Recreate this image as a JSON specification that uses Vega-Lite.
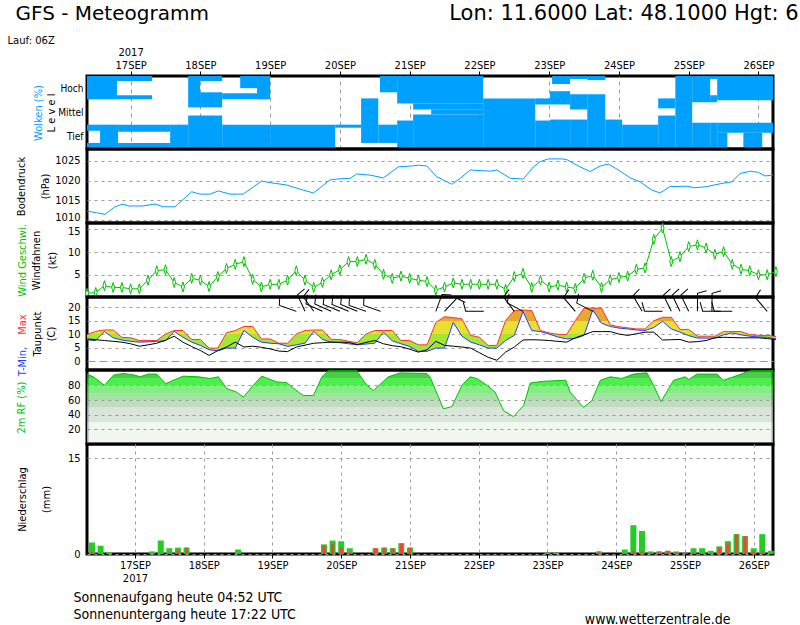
{
  "$schema": "https://vega.github.io/schema/vega-lite/v6.json",
  "background": "white",
  "padding": {"left": 5, "top": 0, "right": 0, "bottom": 0},
  "spacing": 0,
  "bounds": "flush",
  "config": {
    "font": "DejaVu Sans Condensed",
    "view": {"stroke": "black", "strokeWidth": 3},
    "axis": {
      "labelFont": "DejaVu Sans Condensed", "labelFontSize": 11, "labelColor": "black",
      "titleFont": "DejaVu Sans Condensed", "titleFontSize": 11, "titleFontWeight": "normal", "titleColor": "black",
      "domain": false, "ticks": false, "labelPadding": 6,
      "gridColor": "#9a9a9a", "gridDash": [3, 4], "gridWidth": 1,
      "labelFlush": false, "labelOverlap": false
    }
  },
  "datasets": {
    "clouds": [
      {"h0": 9, "h1": 19.3, "l0": 2.04, "l1": 3},
      {"h0": 19.3, "h1": 31.4, "l0": 2.79, "l1": 3},
      {"h0": 19.3, "h1": 31.4, "l0": 2.04, "l1": 2.21},
      {"h0": 43.8, "h1": 47.9, "l0": 1.71, "l1": 3},
      {"h0": 47.9, "h1": 55.5, "l0": 2.79, "l1": 3},
      {"h0": 47.9, "h1": 55.5, "l0": 1.71, "l1": 2.33},
      {"h0": 43.8, "h1": 55.5, "l0": 0, "l1": 1.375},
      {"h0": 61.7, "h1": 67.5, "l0": 2.5, "l1": 3},
      {"h0": 55.5, "h1": 67.5, "l0": 2.04, "l1": 2.29},
      {"h0": 67.5, "h1": 72, "l0": 2.04, "l1": 3},
      {"h0": 9, "h1": 13.5, "l0": 0.75, "l1": 1},
      {"h0": 9, "h1": 13.5, "l0": 0, "l1": 0.25},
      {"h0": 13.5, "h1": 19.7, "l0": 0, "l1": 1},
      {"h0": 19.7, "h1": 37.6, "l0": 0.71, "l1": 1},
      {"h0": 19.7, "h1": 37.6, "l0": 0, "l1": 0.25},
      {"h0": 37.6, "h1": 43.8, "l0": 0, "l1": 1},
      {"h0": 55.5, "h1": 72, "l0": 0, "l1": 1},
      {"h0": 72, "h1": 94.4, "l0": 0, "l1": 1},
      {"h0": 94.4, "h1": 103.3, "l0": 0.875, "l1": 1},
      {"h0": 103.3, "h1": 109.2, "l0": 0.25, "l1": 2.08},
      {"h0": 109.2, "h1": 115.7, "l0": 0.25, "l1": 1},
      {"h0": 109.8, "h1": 115.7, "l0": 2.33, "l1": 3},
      {"h0": 115.7, "h1": 145.3, "l0": 1.875, "l1": 3},
      {"h0": 121.2, "h1": 145.3, "l0": 1.625, "l1": 1.875},
      {"h0": 127.4, "h1": 145.3, "l0": 1.42, "l1": 1.625},
      {"h0": 121.2, "h1": 145.3, "l0": 0, "l1": 1.42},
      {"h0": 115.7, "h1": 121.2, "l0": 0, "l1": 1.17},
      {"h0": 145.3, "h1": 163.2, "l0": 0, "l1": 2.08},
      {"h0": 163.2, "h1": 168.3, "l0": 1.83, "l1": 2.08},
      {"h0": 163.2, "h1": 168.3, "l0": 0, "l1": 1.17},
      {"h0": 169, "h1": 175.2, "l0": 2.67, "l1": 3},
      {"h0": 168.3, "h1": 175.2, "l0": 1.83, "l1": 2.375},
      {"h0": 168.3, "h1": 175.2, "l0": 0, "l1": 1.21},
      {"h0": 175.2, "h1": 181.1, "l0": 2.875, "l1": 3},
      {"h0": 175.2, "h1": 181.1, "l0": 1.625, "l1": 2.25},
      {"h0": 175.2, "h1": 181.1, "l0": 0, "l1": 1.21},
      {"h0": 181.1, "h1": 187.3, "l0": 2.83, "l1": 3},
      {"h0": 181.1, "h1": 187.3, "l0": 0, "l1": 2.25},
      {"h0": 187.3, "h1": 193.1, "l0": 0, "l1": 1.21},
      {"h0": 193.1, "h1": 205.5, "l0": 0, "l1": 1},
      {"h0": 205.5, "h1": 211.4, "l0": 1.67, "l1": 2.08},
      {"h0": 205.5, "h1": 211.4, "l0": 0, "l1": 1.375},
      {"h0": 211.4, "h1": 217.2, "l0": 0, "l1": 3},
      {"h0": 217.2, "h1": 223.4, "l0": 1.92, "l1": 3},
      {"h0": 217.2, "h1": 223.4, "l0": 0, "l1": 1.08},
      {"h0": 223.4, "h1": 225.8, "l0": 2.875, "l1": 3},
      {"h0": 223.4, "h1": 225.8, "l0": 1.92, "l1": 2.21},
      {"h0": 223.4, "h1": 225.8, "l0": 0, "l1": 1.08},
      {"h0": 225.8, "h1": 245, "l0": 2.0, "l1": 3},
      {"h0": 225.8, "h1": 245, "l0": 0.67, "l1": 1.08},
      {"h0": 225.8, "h1": 229.3, "l0": 0, "l1": 0.67},
      {"h0": 234.8, "h1": 241.3, "l0": 0, "l1": 0.67}
    ],
    "pres": [
      {"h": 9, "p": 1012.3}, {"h": 12.3, "p": 1011.9}, {"h": 15.2, "p": 1011.5}, {"h": 18.6, "p": 1013.4},
      {"h": 21.5, "p": 1014.1}, {"h": 23.1, "p": 1013.6}, {"h": 28.3, "p": 1013.6}, {"h": 32.4, "p": 1014.1},
      {"h": 35.2, "p": 1013.4}, {"h": 39.3, "p": 1013.4}, {"h": 45, "p": 1017.2}, {"h": 47.9, "p": 1016.6},
      {"h": 51.3, "p": 1016.6}, {"h": 54.2, "p": 1017.4}, {"h": 58.2, "p": 1016.6}, {"h": 62.7, "p": 1016.6},
      {"h": 69.1, "p": 1019.9}, {"h": 72, "p": 1019.5}, {"h": 77.7, "p": 1018.9}, {"h": 83.4, "p": 1017.6},
      {"h": 86.9, "p": 1016.9}, {"h": 89.2, "p": 1018.2}, {"h": 92.6, "p": 1020.2}, {"h": 94.9, "p": 1020.4},
      {"h": 99.5, "p": 1020.6}, {"h": 101.8, "p": 1021.7}, {"h": 106.4, "p": 1021.4}, {"h": 111, "p": 1020.7},
      {"h": 116.1, "p": 1023.5}, {"h": 120.7, "p": 1023.7}, {"h": 123, "p": 1023.9}, {"h": 125.9, "p": 1023.7},
      {"h": 129.3, "p": 1021.0}, {"h": 134.5, "p": 1019.1}, {"h": 137.4, "p": 1020.6}, {"h": 140.8, "p": 1022.7},
      {"h": 147.7, "p": 1022.4}, {"h": 150, "p": 1022.7}, {"h": 154.6, "p": 1020.6}, {"h": 159.1, "p": 1020.4},
      {"h": 162.6, "p": 1023.5}, {"h": 164.9, "p": 1024.8}, {"h": 167.7, "p": 1025.5}, {"h": 172.4, "p": 1025.5},
      {"h": 174.1, "p": 1025.3}, {"h": 178.6, "p": 1023.5}, {"h": 182.1, "p": 1022.3}, {"h": 185.5, "p": 1023.7},
      {"h": 188.4, "p": 1024.2}, {"h": 191.8, "p": 1022.7}, {"h": 195.9, "p": 1020.7}, {"h": 199.3, "p": 1019.7},
      {"h": 203.3, "p": 1017.6}, {"h": 206.2, "p": 1016.9}, {"h": 209.6, "p": 1018.5}, {"h": 215.4, "p": 1018.6},
      {"h": 218.2, "p": 1018.2}, {"h": 222.2, "p": 1018.5}, {"h": 227.4, "p": 1019.3}, {"h": 230.8, "p": 1019.7},
      {"h": 233.7, "p": 1021.8}, {"h": 237.2, "p": 1022.4}, {"h": 240, "p": 1022.1}, {"h": 242.3, "p": 1021.2},
      {"h": 245, "p": 1021.4}
    ],
    "wind": [
      {"h": 9, "w": 0.9}, {"h": 12, "w": 1.1}, {"h": 15, "w": 2.6}, {"h": 18, "w": 2.2}, {"h": 21, "w": 2.2},
      {"h": 24, "w": 1.9}, {"h": 27, "w": 1.9}, {"h": 30, "w": 3.8}, {"h": 33, "w": 5.9}, {"h": 36, "w": 6.1},
      {"h": 39, "w": 3.3}, {"h": 42, "w": 2.3}, {"h": 45, "w": 4.2}, {"h": 48, "w": 3.8}, {"h": 51, "w": 2.4},
      {"h": 54, "w": 4.6}, {"h": 57, "w": 6.4}, {"h": 60, "w": 7.3}, {"h": 63, "w": 7.9}, {"h": 66, "w": 4.0},
      {"h": 69, "w": 2.3}, {"h": 72, "w": 2.9}, {"h": 75, "w": 2.9}, {"h": 78, "w": 3.8}, {"h": 81, "w": 5.9},
      {"h": 84, "w": 3.8}, {"h": 87, "w": 2.2}, {"h": 90, "w": 3.3}, {"h": 93, "w": 5.0}, {"h": 96, "w": 6.1},
      {"h": 99, "w": 7.9}, {"h": 102, "w": 7.9}, {"h": 105, "w": 8.4}, {"h": 108, "w": 7.3}, {"h": 111, "w": 5.1},
      {"h": 114, "w": 4.2}, {"h": 117, "w": 4.7}, {"h": 120, "w": 4.2}, {"h": 123, "w": 3.8}, {"h": 126, "w": 3.5},
      {"h": 129, "w": 1.6}, {"h": 132, "w": 2.3}, {"h": 135, "w": 3.2}, {"h": 138, "w": 2.9}, {"h": 141, "w": 2.9},
      {"h": 144, "w": 2.9}, {"h": 147, "w": 2.9}, {"h": 150, "w": 2.9}, {"h": 153, "w": 1.8}, {"h": 156, "w": 4.6},
      {"h": 159, "w": 5.3}, {"h": 162, "w": 2.2}, {"h": 165, "w": 3.8}, {"h": 168, "w": 2.3}, {"h": 171, "w": 2.7},
      {"h": 174, "w": 2.3}, {"h": 177, "w": 2.0}, {"h": 180, "w": 4.2}, {"h": 183, "w": 4.9}, {"h": 186, "w": 2.2},
      {"h": 189, "w": 3.9}, {"h": 192, "w": 4.4}, {"h": 195, "w": 4.7}, {"h": 198, "w": 6.2}, {"h": 201, "w": 6.5},
      {"h": 204, "w": 12.8}, {"h": 207, "w": 15.3}, {"h": 210, "w": 7.9}, {"h": 213, "w": 9.0}, {"h": 216, "w": 11.2},
      {"h": 219, "w": 11.6}, {"h": 222, "w": 10.9}, {"h": 225, "w": 9.5}, {"h": 228, "w": 10.1}, {"h": 231, "w": 7.3},
      {"h": 234, "w": 6.2}, {"h": 237, "w": 5.9}, {"h": 240, "w": 5.0}, {"h": 243, "w": 5.0}, {"h": 246, "w": 5.7}
    ],
    "barbs": [
      {"h": 81, "a": 0}, {"h": 84, "a": 46}, {"h": 87, "a": 35}, {"h": 90, "a": 5}, {"h": 93, "a": 5},
      {"h": 96, "a": 3}, {"h": 99, "a": 3}, {"h": 102, "a": 3}, {"h": 105, "a": 0}, {"h": 110, "a": 0},
      {"h": 129, "a": 91}, {"h": 132, "a": 114}, {"h": 145.5, "a": -19},
      {"h": 156, "a": 34}, {"h": 159, "a": 9}, {"h": 177, "a": 30}, {"h": 183, "a": 8},
      {"h": 200, "a": 40}, {"h": 207, "a": -19}, {"h": 210, "a": 45}, {"h": 213, "a": 45}, {"h": 216, "a": 45},
      {"h": 219, "a": 71}, {"h": 224, "a": 71}, {"h": 227, "a": -19}, {"h": 231, "a": -19}, {"h": 243, "a": 30}
    ],
    "temp": [
      {"h": 9, "tmax": 9.9, "tmin": 7.9, "td": 8.3}, {"h": 12, "tmax": 11.1, "tmin": 7.7, "td": 8.0},
      {"h": 15, "tmax": 11.6, "tmin": 11.0, "td": 7.7}, {"h": 18, "tmax": 11.6, "tmin": 8.7, "td": 7.4},
      {"h": 21, "tmax": 8.9, "tmin": 7.9, "td": 7.1}, {"h": 24, "tmax": 8.7, "tmin": 7.4, "td": 6.5},
      {"h": 27, "tmax": 7.7, "tmin": 7.1, "td": 5.6}, {"h": 30, "tmax": 7.7, "tmin": 7.2, "td": 6.1},
      {"h": 33, "tmax": 7.7, "tmin": 7.4, "td": 6.7}, {"h": 36, "tmax": 10.1, "tmin": 7.6, "td": 7.8},
      {"h": 39, "tmax": 11.4, "tmin": 11.1, "td": 9.3}, {"h": 42, "tmax": 11.4, "tmin": 8.9, "td": 7.1},
      {"h": 45, "tmax": 8.1, "tmin": 7.1, "td": 5.5}, {"h": 48, "tmax": 8.1, "tmin": 5.9, "td": 4.0},
      {"h": 51, "tmax": 4.9, "tmin": 4.3, "td": 2.2}, {"h": 54, "tmax": 4.9, "tmin": 3.9, "td": 4.0},
      {"h": 57, "tmax": 10.6, "tmin": 4.9, "td": 5.3}, {"h": 60, "tmax": 11.4, "tmin": 4.9, "td": 7.1},
      {"h": 63, "tmax": 12.9, "tmin": 11.4, "td": 5.3}, {"h": 66, "tmax": 12.9, "tmin": 8.9, "td": 5.6},
      {"h": 69, "tmax": 8.3, "tmin": 7.1, "td": 5.2}, {"h": 72, "tmax": 8.3, "tmin": 6.7, "td": 4.6},
      {"h": 75, "tmax": 6.7, "tmin": 6.5, "td": 3.8}, {"h": 78, "tmax": 6.7, "tmin": 5.5, "td": 3.6},
      {"h": 81, "tmax": 10.1, "tmin": 6.1, "td": 5.3}, {"h": 84, "tmax": 11.4, "tmin": 6.7, "td": 6.0},
      {"h": 87, "tmax": 11.6, "tmin": 11.1, "td": 6.7}, {"h": 90, "tmax": 11.6, "tmin": 8.1, "td": 6.9},
      {"h": 93, "tmax": 8.1, "tmin": 7.1, "td": 7.1}, {"h": 96, "tmax": 8.1, "tmin": 6.9, "td": 7.1},
      {"h": 99, "tmax": 7.4, "tmin": 6.5, "td": 7.0}, {"h": 102, "tmax": 6.9, "tmin": 6.1, "td": 6.2},
      {"h": 105, "tmax": 10.1, "tmin": 6.4, "td": 7.0}, {"h": 108, "tmax": 11.4, "tmin": 6.7, "td": 7.7},
      {"h": 111, "tmax": 11.4, "tmin": 10.8, "td": 6.5}, {"h": 114, "tmax": 11.4, "tmin": 7.6, "td": 5.8},
      {"h": 117, "tmax": 7.7, "tmin": 6.5, "td": 5.4}, {"h": 120, "tmax": 7.7, "tmin": 5.5, "td": 4.5},
      {"h": 123, "tmax": 6.1, "tmin": 3.7, "td": 3.4}, {"h": 126, "tmax": 6.1, "tmin": 3.7, "td": 4.3},
      {"h": 129, "tmax": 14.4, "tmin": 4.9, "td": 7.4}, {"h": 132, "tmax": 16.5, "tmin": 4.9, "td": 5.9},
      {"h": 135, "tmax": 16.2, "tmin": 14.4, "td": 5.6}, {"h": 138, "tmax": 15.7, "tmin": 9.3, "td": 5.3},
      {"h": 141, "tmax": 9.6, "tmin": 7.1, "td": 4.9}, {"h": 144, "tmax": 8.9, "tmin": 6.1, "td": 3.2},
      {"h": 147, "tmax": 5.9, "tmin": 4.9, "td": 1.5}, {"h": 150, "tmax": 5.9, "tmin": 4.9, "td": 0.4},
      {"h": 153, "tmax": 15.1, "tmin": 7.7, "td": 3.4}, {"h": 156, "tmax": 18.8, "tmin": 9.6, "td": 5.3},
      {"h": 159, "tmax": 19.0, "tmin": 18.4, "td": 7.9}, {"h": 162, "tmax": 18.8, "tmin": 11.4, "td": 8.0},
      {"h": 165, "tmax": 11.4, "tmin": 11.0, "td": 7.9}, {"h": 168, "tmax": 10.5, "tmin": 10.1, "td": 7.7},
      {"h": 171, "tmax": 10.0, "tmin": 9.0, "td": 7.4}, {"h": 174, "tmax": 9.9, "tmin": 8.3, "td": 7.1},
      {"h": 177, "tmax": 15.1, "tmin": 8.5, "td": 8.7}, {"h": 180, "tmax": 19.7, "tmin": 9.6, "td": 9.8},
      {"h": 183, "tmax": 19.7, "tmin": 19.0, "td": 11.0}, {"h": 186, "tmax": 19.7, "tmin": 14.1, "td": 11.0},
      {"h": 189, "tmax": 13.5, "tmin": 12.9, "td": 11.0}, {"h": 192, "tmax": 12.8, "tmin": 12.3, "td": 10.1},
      {"h": 195, "tmax": 12.4, "tmin": 12.0, "td": 9.6}, {"h": 198, "tmax": 12.0, "tmin": 11.6, "td": 10.2},
      {"h": 201, "tmax": 12.0, "tmin": 11.4, "td": 10.8}, {"h": 204, "tmax": 15.0, "tmin": 12.5, "td": 10.8},
      {"h": 207, "tmax": 16.3, "tmin": 14.8, "td": 7.9}, {"h": 210, "tmax": 16.3, "tmin": 12.0, "td": 8.0},
      {"h": 213, "tmax": 11.8, "tmin": 10.8, "td": 8.1}, {"h": 216, "tmax": 11.8, "tmin": 9.5, "td": 7.1},
      {"h": 219, "tmax": 9.3, "tmin": 8.6, "td": 7.3}, {"h": 222, "tmax": 9.3, "tmin": 8.6, "td": 7.7},
      {"h": 225, "tmax": 9.3, "tmin": 8.6, "td": 8.7}, {"h": 228, "tmax": 11.0, "tmin": 9.8, "td": 8.9},
      {"h": 231, "tmax": 11.0, "tmin": 10.5, "td": 8.8}, {"h": 234, "tmax": 11.0, "tmin": 9.8, "td": 8.7},
      {"h": 237, "tmax": 9.9, "tmin": 9.3, "td": 8.7}, {"h": 240, "tmax": 9.6, "tmin": 9.0, "td": 8.7},
      {"h": 243, "tmax": 9.6, "tmin": 8.9, "td": 8.4}, {"h": 246, "tmax": 9.2, "tmin": 8.3, "td": 8.1}
    ],
    "rh": [
      {"h": 9, "rh": 95.4}, {"h": 11.2, "rh": 91.7}, {"h": 15, "rh": 80.1}, {"h": 18.1, "rh": 94},
      {"h": 21.5, "rh": 96.3}, {"h": 25.5, "rh": 94}, {"h": 27.2, "rh": 91.7}, {"h": 30.1, "rh": 95.4},
      {"h": 33, "rh": 95.4}, {"h": 36.1, "rh": 82.4}, {"h": 38.7, "rh": 87}, {"h": 42.1, "rh": 92.6},
      {"h": 47.3, "rh": 91.7}, {"h": 51.3, "rh": 89.4}, {"h": 54.2, "rh": 91.7}, {"h": 57.1, "rh": 75.5},
      {"h": 60.5, "rh": 70.8}, {"h": 62.8, "rh": 63.9}, {"h": 66.2, "rh": 80.1}, {"h": 69.1, "rh": 92.6},
      {"h": 74.3, "rh": 84.7}, {"h": 77.7, "rh": 83.8}, {"h": 81.7, "rh": 70.8}, {"h": 83.4, "rh": 66.2},
      {"h": 86.9, "rh": 66.2}, {"h": 89.8, "rh": 91.7}, {"h": 92, "rh": 100}, {"h": 101.8, "rh": 100},
      {"h": 105.3, "rh": 80.1}, {"h": 107.5, "rh": 73.1}, {"h": 112.7, "rh": 91.7}, {"h": 116.7, "rh": 97},
      {"h": 125.9, "rh": 96.3}, {"h": 127, "rh": 91.7}, {"h": 131.6, "rh": 48}, {"h": 134.5, "rh": 51},
      {"h": 138, "rh": 80.1}, {"h": 140.8, "rh": 91.7}, {"h": 143.1, "rh": 89.4}, {"h": 146.6, "rh": 80.1},
      {"h": 149.4, "rh": 70.8}, {"h": 152.3, "rh": 45.4}, {"h": 155.7, "rh": 37.5}, {"h": 159.2, "rh": 52.3},
      {"h": 161.5, "rh": 83.3}, {"h": 166, "rh": 85.6}, {"h": 173.7, "rh": 87}, {"h": 175.2, "rh": 70.8},
      {"h": 179.8, "rh": 50}, {"h": 182.7, "rh": 59.3}, {"h": 185.6, "rh": 87}, {"h": 189, "rh": 91.7},
      {"h": 193, "rh": 89.4}, {"h": 197, "rh": 95.4}, {"h": 201.6, "rh": 97.2}, {"h": 203.9, "rh": 80.1},
      {"h": 206.5, "rh": 57.9}, {"h": 210.8, "rh": 87}, {"h": 214.8, "rh": 91.7}, {"h": 216, "rh": 88},
      {"h": 218.8, "rh": 95.4}, {"h": 225.7, "rh": 95.4}, {"h": 228, "rh": 87}, {"h": 231.4, "rh": 91.7},
      {"h": 237.2, "rh": 100}, {"h": 245, "rh": 100}
    ],
    "precip": [
      {"h": 9, "p": 1.8, "pc": 0.3}, {"h": 12, "p": 1.3, "pc": 0}, {"h": 15, "p": 0.3, "pc": 0},
      {"h": 30, "p": 0.4, "pc": 0}, {"h": 33, "p": 2.1, "pc": 0}, {"h": 36, "p": 0.9, "pc": 0.2},
      {"h": 39, "p": 1.0, "pc": 0.6}, {"h": 42, "p": 1.0, "pc": 1.0}, {"h": 60, "p": 0.7, "pc": 0},
      {"h": 90, "p": 1.5, "pc": 1.3}, {"h": 93, "p": 2.1, "pc": 1.6}, {"h": 96, "p": 2.0, "pc": 1.0},
      {"h": 99, "p": 0.9, "pc": 0.3}, {"h": 108, "p": 0.9, "pc": 0.9}, {"h": 111, "p": 1.0, "pc": 1.0},
      {"h": 114, "p": 0.9, "pc": 0.9}, {"h": 117, "p": 1.7, "pc": 1.6}, {"h": 120, "p": 1.0, "pc": 1.0},
      {"h": 168, "p": 0.2, "pc": 0}, {"h": 171, "p": 0.2, "pc": 0}, {"h": 186, "p": 0.4, "pc": 0.4},
      {"h": 195, "p": 0.7, "pc": 0}, {"h": 198, "p": 4.5, "pc": 0.5}, {"h": 201, "p": 3.6, "pc": 0.4},
      {"h": 204, "p": 0.4, "pc": 0.2}, {"h": 207, "p": 0.4, "pc": 0.4}, {"h": 210, "p": 0.5, "pc": 0.5},
      {"h": 213, "p": 0.4, "pc": 0.3}, {"h": 216, "p": 0.1, "pc": 0.1}, {"h": 219, "p": 0.9, "pc": 0.2},
      {"h": 222, "p": 0.9, "pc": 0}, {"h": 225, "p": 0.5, "pc": 0.1}, {"h": 228, "p": 1.2, "pc": 1.0},
      {"h": 231, "p": 2.0, "pc": 1.6}, {"h": 234, "p": 3.1, "pc": 3.1}, {"h": 237, "p": 2.8, "pc": 2.8},
      {"h": 240, "p": 0.9, "pc": 0.4}, {"h": 243, "p": 3.1, "pc": 0.4}, {"h": 246, "p": 0.5, "pc": 0}
    ]
  },
  "vconcat": [
    {
      "width": 686, "height": 73,
      "data": {"name": "clouds"},
      "layer": [
        {
          "mark": {"type": "rect", "color": "#00a0ff"},
          "encoding": {
            "x": {"field": "h0", "type": "quantitative", "scale": {"domain": [9, 245], "nice": false, "zero": false},
              "axis": {"orient": "top", "values": [24, 48, 72, 96, 120, 144, 168, 192, 216, 240],
                "labelExpr": "(16 + datum.value / 24) + 'SEP'",
                "ticks": true, "tickSize": 5, "tickColor": "black", "labelPadding": 1,
                "grid": true, "gridDash": [4, 4],
                "title": "Lon: 11.6000 Lat: 48.1000 Hgt: 6", "titleFont": "DejaVu Sans", "titleFontSize": 21,
                "titleAlign": "right", "titleBaseline": "alphabetic", "titleX": 711, "titleY": -57}},
            "x2": {"field": "h1"},
            "y": {"field": "l0", "type": "quantitative", "scale": {"domain": [0, 3], "nice": false, "zero": false},
              "axis": {"orient": "left", "values": [0.5, 1.5, 2.5], "labelExpr": "datum.value < 1 ? 'Tief' : datum.value < 2 ? 'Mittel' : 'Hoch'",
                "labelPadding": 4, "labelFontSize": 10, "grid": false, "title": "L e v e l", "titlePadding": 1}},
            "y2": {"field": "l1"}
          }
        },
        {
          "mark": {"type": "rect", "opacity": 0},
          "encoding": {
            "x": {"field": "h0", "type": "quantitative", "scale": {"domain": [9, 245], "nice": false, "zero": false},
              "axis": {"orient": "top", "values": [24], "labelExpr": "'2017'", "labelPadding": 19, "grid": false,
                "title": "GFS - Meteogramm", "titleFont": "DejaVu Sans", "titleFontSize": 20,
                "titleAlign": "left", "titleBaseline": "alphabetic", "titleX": -72, "titleY": -57}},
            "x2": {"field": "h1"},
            "y": {"field": "l0", "type": "quantitative", "scale": {"domain": [0, 3], "nice": false, "zero": false},
              "axis": {"orient": "left", "labels": false, "grid": false, "title": "Wolken (%)", "titleColor": "#00a0ff", "titlePadding": 44}},
            "y2": {"field": "l1"}
          }
        },
        {
          "mark": {"type": "rect", "opacity": 0},
          "encoding": {
            "x": {"field": "h0", "type": "quantitative", "scale": {"domain": [9, 245], "nice": false, "zero": false},
              "axis": {"orient": "top", "labels": false, "grid": false,
                "title": "Lauf: 06Z", "titleFont": "DejaVu Sans", "titleFontSize": 10,
                "titleAlign": "left", "titleBaseline": "alphabetic", "titleX": -80, "titleY": -33}},
            "x2": {"field": "h1"},
            "y": {"field": "l0", "type": "quantitative", "scale": {"domain": [0, 3], "nice": false, "zero": false}, "axis": null},
            "y2": {"field": "l1"}
          }
        }
      ],
      "resolve": {"axis": {"x": "independent", "y": "independent"}}
    },
    {
      "width": 686, "height": 74,
      "data": {"name": "pres"},
      "mark": {"type": "line", "color": "#00a0ff", "strokeWidth": 1},
      "encoding": {
        "x": {"field": "h", "type": "quantitative", "scale": {"domain": [9, 245], "nice": false, "zero": false}, "axis": null},
        "y": {"field": "p", "type": "quantitative", "scale": {"domain": [1009.3, 1028], "nice": false, "zero": false},
          "axis": {"values": [1010, 1015, 1020, 1025], "format": "d", "grid": true, "labelPadding": 7,
            "labelOffset": {"condition": {"test": "datum.value === 1010", "value": -3}, "value": 0},
            "title": ["Bodendruck", "(hPa)"], "titleLineHeight": 24, "titlePadding": 4}}
      }
    },
    {
      "width": 686, "height": 74,
      "data": {"name": "wind"},
      "layer": [
        {
          "mark": {"type": "line", "color": "#00c000", "strokeWidth": 1},
          "encoding": {
            "x": {"field": "h", "type": "quantitative", "scale": {"domain": [9, 245], "nice": false, "zero": false}, "axis": null},
            "y": {"field": "w", "type": "quantitative", "scale": {"domain": [0.1, 16.4], "nice": false, "zero": false},
              "axis": {"orient": "left", "values": [5, 10, 15], "grid": true, "labelPadding": 7,
                "labelOffset": {"condition": {"test": "datum.value === 15", "value": 2}, "value": 0},
                "title": ["Windfahnen", "(kt)"], "titleLineHeight": 16, "titlePadding": 10}}
          }
        },
        {
          "mark": {"type": "point", "shape": "M0,-1L0.3,0L0,1L-0.3,0Z", "size": 100, "filled": true, "fill": "white", "stroke": "#00c000", "strokeWidth": 1, "opacity": 1},
          "encoding": {
            "x": {"field": "h", "type": "quantitative", "scale": {"domain": [9, 245], "nice": false, "zero": false}, "axis": null},
            "y": {"field": "w", "type": "quantitative", "scale": {"domain": [0.1, 16.4], "nice": false, "zero": false},
              "axis": {"orient": "left", "labels": false, "grid": false, "title": "Wind Geschwi.", "titleColor": "#00c000", "titlePadding": 60}}
          }
        }
      ],
      "resolve": {"axis": {"y": "independent"}}
    },
    {
      "width": 686, "height": 73,
      "data": {"name": "temp"},
      "layer": [
        {
          "mark": {"type": "area", "color": {"gradient": "linear", "x1": 0, "y1": 0, "x2": 0, "y2": 1,
            "stops": [
              {"offset": 0, "color": "#e6a832"}, {"offset": 0.294, "color": "#e6a832"},
              {"offset": 0.294, "color": "#e6e032"}, {"offset": 0.606, "color": "#e6e032"},
              {"offset": 0.606, "color": "#a6e632"}, {"offset": 1, "color": "#a6e632"}]}},
          "encoding": {
            "x": {"field": "h", "type": "quantitative", "scale": {"domain": [9, 245], "nice": false, "zero": false}, "axis": null},
            "y": {"field": "tmax", "type": "quantitative", "scale": {"domain": [-3.2, 23.8], "nice": false, "zero": false},
              "axis": {"orient": "left", "values": [0, 5, 10, 15, 20], "grid": true, "labelPadding": 7,
                "gridDash": {"condition": {"test": "datum.value === 0", "value": [8, 4]}, "value": [3, 4]},
                "title": "(C)", "titlePadding": 11}},
            "y2": {"field": "tmin"}
          }
        },
        {
          "mark": {"type": "line", "color": "#ff3030", "strokeWidth": 1},
          "encoding": {
            "x": {"field": "h", "type": "quantitative", "scale": {"domain": [9, 245], "nice": false, "zero": false}, "axis": null},
            "y": {"field": "tmax", "type": "quantitative", "scale": {"domain": [-3.2, 23.8], "nice": false, "zero": false},
              "axis": {"orient": "left", "labels": false, "grid": false, "title": "Max", "titleColor": "#ff3030", "titlePadding": 60, "titleY": 27}}
          }
        },
        {
          "mark": {"type": "line", "color": "#2040ff", "strokeWidth": 1},
          "encoding": {
            "x": {"field": "h", "type": "quantitative", "scale": {"domain": [9, 245], "nice": false, "zero": false}, "axis": null},
            "y": {"field": "tmin", "type": "quantitative", "scale": {"domain": [-3.2, 23.8], "nice": false, "zero": false},
              "axis": {"orient": "left", "labels": false, "grid": false, "title": "T-Min,", "titleColor": "#2040ff", "titlePadding": 60, "titleY": 64}}
          }
        },
        {
          "mark": {"type": "line", "color": "black", "strokeWidth": 1},
          "encoding": {
            "x": {"field": "h", "type": "quantitative", "scale": {"domain": [9, 245], "nice": false, "zero": false}, "axis": null},
            "y": {"field": "td", "type": "quantitative", "scale": {"domain": [-3.2, 23.8], "nice": false, "zero": false},
              "axis": {"orient": "left", "labels": false, "grid": false, "title": "Taupunkt", "titlePadding": 45}}
          }
        },
        {
          "data": {"name": "barbs"},
          "mark": {"type": "point", "shape": "M0,0L-1,-0.35L-0.97,-0.9", "size": 1156, "filled": false, "stroke": "black", "strokeWidth": 1, "opacity": 1},
          "encoding": {
            "x": {"field": "h", "type": "quantitative", "scale": {"domain": [9, 245], "nice": false, "zero": false}, "axis": null},
            "y": {"datum": 18.5, "type": "quantitative", "scale": {"domain": [-3.2, 23.8], "nice": false, "zero": false}, "axis": null},
            "angle": {"field": "a", "type": "quantitative", "scale": null}
          }
        }
      ],
      "resolve": {"axis": {"y": "independent"}}
    },
    {
      "width": 686, "height": 74,
      "data": {"name": "rh"},
      "mark": {"type": "area",
        "color": {"gradient": "linear", "x1": 0, "y1": 0, "x2": 0, "y2": 1,
          "stops": [
            {"offset": 0, "color": "#00b400"}, {"offset": 0.1, "color": "#00b400"},
            {"offset": 0.1, "color": "#00e600"}, {"offset": 0.2, "color": "#00e600"},
            {"offset": 0.2, "color": "#4ee64e"}, {"offset": 0.3, "color": "#4ee64e"},
            {"offset": 0.3, "color": "#7ed67e"}, {"offset": 0.4, "color": "#7ed67e"},
            {"offset": 0.4, "color": "#a6cea6"}, {"offset": 0.5, "color": "#a6cea6"},
            {"offset": 0.5, "color": "#c8dac8"}, {"offset": 0.7, "color": "#c8dac8"},
            {"offset": 0.7, "color": "#e9f4e9"}, {"offset": 1, "color": "#e9f4e9"}]},
        "line": {"color": "#00c000", "strokeWidth": 1}},
      "encoding": {
        "x": {"field": "h", "type": "quantitative", "scale": {"domain": [9, 245], "nice": false, "zero": false}, "axis": null},
        "y": {"field": "rh", "type": "quantitative", "scale": {"domain": [0, 101], "nice": false},
          "axis": {"values": [20, 40, 60, 80], "grid": true, "zindex": 1, "labelPadding": 7,
            "title": "2m RF (%)", "titleColor": "#00c000", "titlePadding": 41}}
      }
    },
    {
      "width": 686, "height": 110,
      "data": {"name": "precip"},
      "layer": [
        {
          "mark": {"type": "bar", "color": "#22cc22", "size": 6},
          "encoding": {
            "x": {"field": "h", "type": "quantitative", "scale": {"domain": [9, 245], "nice": false, "zero": false},
              "axis": {"orient": "bottom", "values": [24, 48, 72, 96, 120, 144, 168, 192, 216, 240],
                "labelExpr": "datum.value == 24 ? ['17SEP', '2017'] : (16 + datum.value / 24) + 'SEP'",
                "ticks": true, "tickSize": 4, "tickColor": "black", "labelPadding": 1, "labelLineHeight": 13,
                "grid": true,
                "title": ["Sonnenaufgang heute 04:52 UTC", "Sonnenuntergang heute 17:22 UTC"],
                "titleFontSize": 14, "titleLineHeight": 17, "titleAlign": "left", "titleBaseline": "alphabetic",
                "titleX": -14, "titleY": 47}},
            "y": {"field": "p", "type": "quantitative", "scale": {"domain": [0, 17.2], "nice": false, "zero": false},
              "axis": {"values": [0, 5, 10, 15], "grid": true, "labelPadding": 7,
                "title": ["Niederschlag", "(mm)"], "titleLineHeight": 24, "titlePadding": 16}}
          }
        },
        {
          "mark": {"type": "bar", "color": "#ff3c3c", "size": 3},
          "encoding": {
            "x": {"field": "h", "type": "quantitative", "scale": {"domain": [9, 245], "nice": false, "zero": false},
              "axis": {"orient": "bottom", "labels": false, "grid": false,
                "title": "www.wetterzentrale.de", "titleFontSize": 14, "titleAlign": "right", "titleBaseline": "alphabetic",
                "titleX": 643, "titleY": 69}},
            "y": {"field": "pc", "type": "quantitative", "scale": {"domain": [0, 17.2], "nice": false, "zero": false}}
          }
        }
      ],
      "resolve": {"axis": {"x": "independent"}}
    }
  ]
}
